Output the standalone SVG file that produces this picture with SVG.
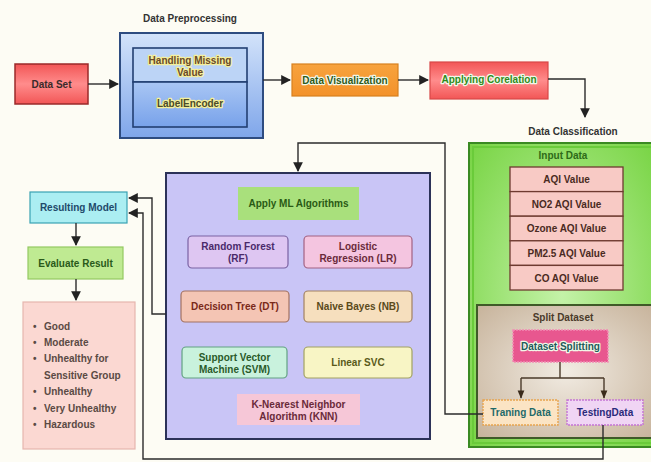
<svg xmlns="http://www.w3.org/2000/svg" width="651" height="462" viewBox="0 0 651 462">
<defs>
<linearGradient id="gRed" x1="0" y1="0" x2="0" y2="1"><stop offset="0" stop-color="#f25656"/><stop offset="0.5" stop-color="#ff8c8c"/><stop offset="1" stop-color="#f25656"/></linearGradient>
<linearGradient id="gBlue" x1="0" y1="0" x2="0" y2="1"><stop offset="0" stop-color="#d3e3fa"/><stop offset="1" stop-color="#7fa6ea"/></linearGradient>
<linearGradient id="gBlue2" x1="0" y1="0" x2="0" y2="1"><stop offset="0" stop-color="#a9c6f4"/><stop offset="1" stop-color="#78a2ea"/></linearGradient>
<linearGradient id="gOrange" x1="0" y1="0" x2="0" y2="1"><stop offset="0" stop-color="#f7a33e"/><stop offset="1" stop-color="#f3922a"/></linearGradient>
<radialGradient id="gGreen" cx="0.5" cy="0.5" r="0.7"><stop offset="0" stop-color="#c4f2a8"/><stop offset="1" stop-color="#78d444"/></radialGradient>
<radialGradient id="gBeige" cx="0.5" cy="0.5" r="0.7"><stop offset="0" stop-color="#f1ebe2"/><stop offset="1" stop-color="#c7b39b"/></radialGradient>
<marker id="ah" viewBox="0 0 10 10" refX="9" refY="5" markerWidth="7" markerHeight="7" orient="auto"><path d="M0,0 L10,5 L0,10 z" fill="#222"/></marker>
<marker id="ah2" viewBox="0 0 10 10" refX="9" refY="5" markerWidth="6" markerHeight="6" orient="auto"><path d="M0,1 L10,5 L0,9 z" fill="#3a2a1a"/></marker>
</defs>
<style>
text{font-family:"Liberation Sans",Arial,sans-serif;font-size:10px;font-weight:bold;text-anchor:middle;dominant-baseline:central}
.halo{paint-order:stroke;stroke-width:2.5px;stroke-linejoin:round}
.hy{stroke:#f4ef9a}
.hw{stroke:#f2f7e8}
.conn{fill:none;stroke:#2b2b2b;stroke-width:1.4}
.alg{stroke-width:1.2}
.row{fill:#f8cac5;stroke:#6e3a30;stroke-width:1.3}
.bul{text-anchor:start;fill:#5a4a44}
</style>
<rect width="651" height="462" fill="#fdfcf4"/>

<g id="data-set">
<rect x="15" y="64" width="73" height="40" fill="url(#gRed)" stroke="#9a2a2a" stroke-width="1.5"/>
<text x="51.5" y="84" fill="#3a2a2a">Data Set</text>
</g>

<g id="data-preprocessing">
<text x="190" y="18" fill="#333">Data Preprocessing</text>
<rect x="120" y="33" width="143" height="105" fill="url(#gBlue)" stroke="#2e4c80" stroke-width="2"/>
<rect x="133" y="48" width="114" height="34" fill="#bcd4f6" stroke="#223f72" stroke-width="1.6"/>
<rect x="133" y="82" width="114" height="45" fill="url(#gBlue2)" stroke="#223f72" stroke-width="1.6"/>
<text x="190" y="60" fill="#6a4a2a" class="halo hy">Handling Missing</text>
<text x="190" y="72" fill="#6a4a2a" class="halo hy">Value</text>
<text x="190" y="103" fill="#4a4a2a" class="halo hy">LabelEncoder</text>
</g>

<g id="data-visualization">
<rect x="292" y="64" width="106" height="32" fill="url(#gOrange)" stroke="#d8801e" stroke-width="1.2"/>
<text x="345" y="80" fill="#2f5a1a" class="halo hw">Data Visualization</text>
</g>

<g id="applying-corelation">
<rect x="430" y="62" width="118" height="37" fill="url(#gRed)" stroke="#d84848" stroke-width="1.2"/>
<text x="489" y="79" fill="#2f8a1a" class="halo hw">Applying Corelation</text>
</g>

<g id="data-classification">
<text x="573" y="131" fill="#333">Data Classification</text>
<rect x="469" y="143" width="186" height="304" fill="url(#gGreen)" stroke="#3a8a22" stroke-width="2"/>
<rect x="473" y="147" width="182" height="296" fill="none" stroke="#6acb3a" stroke-width="2"/>
<text x="563" y="155" fill="#2e6a18" font-size="9">Input Data</text>
</g>

<g id="input-data">
<rect class="row" x="510" y="167" width="113" height="24.6"/>
<rect class="row" x="510" y="191.6" width="113" height="24.6"/>
<rect class="row" x="510" y="216.2" width="113" height="24.6"/>
<rect class="row" x="510" y="240.8" width="113" height="24.6"/>
<rect class="row" x="510" y="265.4" width="113" height="24.6"/>
<text x="566.5" y="179.5" fill="#4a2a22">AQI Value</text>
<text x="566.5" y="204" fill="#4a2a22">NO2 AQI Value</text>
<text x="566.5" y="228.5" fill="#4a2a22">Ozone AQI Value</text>
<text x="566.5" y="253" fill="#4a2a22">PM2.5 AQI Value</text>
<text x="566.5" y="278" fill="#4a2a22">CO AQI Value</text>
</g>

<g id="split-dataset">
<rect x="477" y="305" width="178" height="133" fill="url(#gBeige)" stroke="#3f5a28" stroke-width="2"/>
<text x="563" y="317" fill="#4a3a2a" font-size="9">Split Dataset</text>
</g>

<g id="dataset-splitting">
<rect x="513" y="330" width="95" height="32" fill="#e8578f" stroke="#f28ab4" stroke-width="1.5" stroke-dasharray="2 1"/>
<text x="560.5" y="346" fill="#1f5a5a" class="halo hw">Dataset Splitting</text>
</g>

<g id="training-data">
<rect x="483" y="400" width="75" height="25" fill="#fbe4c4" stroke="#e8a44e" stroke-width="1.4" stroke-dasharray="2 1"/>
<text x="520.5" y="412.5" fill="#1f6a6a">Traning Data</text>
</g>

<g id="testing-data">
<rect x="567" y="400" width="76" height="25" fill="#f0d5f4" stroke="#c474d4" stroke-width="1.4" stroke-dasharray="2 1"/>
<text x="605" y="412.5" fill="#2a2a7a">TestingData</text>
</g>

<g id="ml-box">
<rect x="166" y="173" width="264" height="266" fill="#c9c5f6" stroke="#2c3258" stroke-width="2"/>
</g>

<g id="apply-ml">
<rect x="238" y="187" width="121" height="33" fill="#a9e07c"/>
<text x="298.5" y="203.5" fill="#2a5a14">Apply ML Algorithms</text>
</g>

<g id="random-forest">
<rect class="alg" x="188" y="236" width="100" height="32" rx="4" fill="#dec6f2" stroke="#7a62a2"/>
<text x="238" y="246.5" fill="#4a2a6a">Random Forest</text>
<text x="238" y="258.5" fill="#4a2a6a">(RF)</text>
</g>

<g id="logistic-regression">
<rect class="alg" x="304" y="236" width="108" height="32" rx="4" fill="#f4c5e0" stroke="#a26282"/>
<text x="358" y="246.5" fill="#6a2a3a">Logistic</text>
<text x="358" y="258.5" fill="#6a2a3a">Regression (LR)</text>
</g>

<g id="decision-tree">
<rect class="alg" x="181" y="291" width="108" height="31" rx="4" fill="#f4c5b4" stroke="#a27262"/>
<text x="235" y="306.5" fill="#7a2a1a">Decision Tree (DT)</text>
</g>

<g id="naive-bayes">
<rect class="alg" x="304" y="291" width="108" height="31" rx="4" fill="#f6dfbe" stroke="#a28262"/>
<text x="358" y="306.5" fill="#5a4a1a">Naive Bayes (NB)</text>
</g>

<g id="svm">
<rect class="alg" x="182" y="347" width="105" height="31" rx="4" fill="#c9f2dd" stroke="#62a282"/>
<text x="234.5" y="357" fill="#2a5a2a">Support Vector</text>
<text x="234.5" y="369" fill="#2a5a2a">Machine (SVM)</text>
</g>

<g id="linear-svc">
<rect class="alg" x="304" y="347" width="108" height="31" rx="4" fill="#f8f5c5" stroke="#a2a262"/>
<text x="358" y="362.5" fill="#5a5a1a">Linear SVC</text>
</g>

<g id="knn">
<rect x="237" y="394" width="123" height="31" fill="#f6c7d7"/>
<text x="298.5" y="404" fill="#6a2a3a">K-Nearest Neighbor</text>
<text x="298.5" y="416" fill="#6a2a3a">Algorithm (KNN)</text>
</g>

<g id="resulting-model">
<rect x="30" y="192" width="97" height="31" fill="#abeef2" stroke="#3aa2b2" stroke-width="1.2"/>
<text x="78.5" y="207.5" fill="#1f4a6a">Resulting Model</text>
</g>

<g id="evaluate-result">
<rect x="28" y="247" width="95" height="32" fill="#bfea92" stroke="#94c862" stroke-width="1.2"/>
<text x="75.5" y="263" fill="#2a5a1a">Evaluate Result</text>
</g>

<g id="result-classes">
<rect x="23" y="302" width="112" height="147" fill="#fbd8d2" stroke="#e6b6ae" stroke-width="1.2"/>
<text class="bul" x="33" y="326">•</text><text class="bul" x="44" y="326">Good</text>
<text class="bul" x="33" y="342">•</text><text class="bul" x="44" y="342">Moderate</text>
<text class="bul" x="33" y="358.5">•</text><text class="bul" x="44" y="358.5">Unhealthy for</text>
<text class="bul" x="44" y="375">Sensitive Group</text>
<text class="bul" x="33" y="391.5">•</text><text class="bul" x="44" y="391.5">Unhealthy</text>
<text class="bul" x="33" y="408">•</text><text class="bul" x="44" y="408">Very Unhealthy</text>
<text class="bul" x="33" y="424.5">•</text><text class="bul" x="44" y="424.5">Hazardous</text>
</g>

<g id="connectors">
<path class="conn" d="M88,84 H118" marker-end="url(#ah)"/>
<path class="conn" d="M263,80 H290" marker-end="url(#ah)"/>
<path class="conn" d="M398,80 H428" marker-end="url(#ah)"/>
<path class="conn" d="M548,79 H585 V117" marker-end="url(#ah)"/>
<path class="conn" d="M483,414 H445 V143 H298 V171" marker-end="url(#ah)"/>
<path class="conn" d="M166,314 H152 V198 H129" marker-end="url(#ah)"/>
<path class="conn" d="M603,425 V459 H143 V213 H129" marker-end="url(#ah)"/>
<path class="conn" d="M76,223 V245" marker-end="url(#ah)"/>
<path class="conn" d="M76,279 V300" marker-end="url(#ah)"/>
<path d="M560,362 V378 M521,378 H604" fill="none" stroke="#4a3a2a" stroke-width="1.4"/>
<path d="M521,378 V398" fill="none" stroke="#4a3a2a" stroke-width="1.4" marker-end="url(#ah2)"/>
<path d="M604,378 V398" fill="none" stroke="#4a3a2a" stroke-width="1.4" marker-end="url(#ah2)"/>
</g>
</svg>
